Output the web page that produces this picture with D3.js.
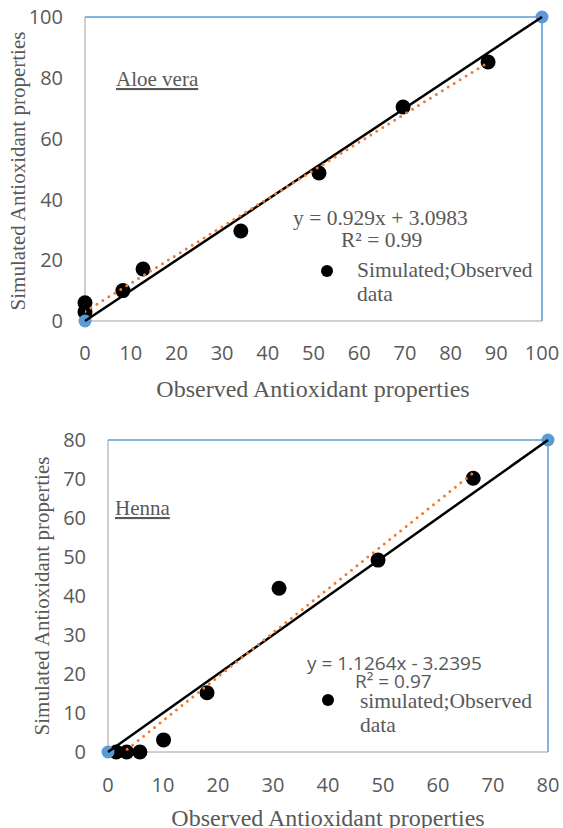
<!DOCTYPE html>
<html>
<head>
<meta charset="utf-8">
<style>
  body { margin: 0; background: #fff; }
  svg { display: block; }
</style>
</head>
<body>
<svg width="563" height="828"></svg>
<script src="https://cdn.jsdelivr.net/npm/d3@7"></script>
<script>
// Aloe vera panel
var aloeObserved  = [0, 0, 8.3, 12.7, 34.1, 51.2, 69.6, 88.2];
var aloeSimulated = [6, 3, 10, 17.1, 29.6, 48.7, 70.4, 85.2];
var aloeTrend = [0.929, 3.0983];
var aloeXTicks = [0, 10, 20, 30, 40, 50, 60, 70, 80, 90, 100];
var aloeYTicks = [0, 20, 40, 60, 80, 100];

// Henna panel
var hennaObserved  = [1.5, 3.4, 5.8, 10.1, 18, 31.1, 49.1, 66.4];
var hennaSimulated = [0, 0, 0, 3.1, 15.2, 42, 49.2, 70.2];
var hennaTrend = [1.1264, -3.2395];
var hennaXTicks = [0, 10, 20, 30, 40, 50, 60, 70, 80];
var hennaYTicks = [0, 10, 20, 30, 40, 50, 60, 70, 80];

var grey = "#595959",
    blue = "#5b9bd5",
    orange = "#ed7d31",
    serif = "'Liberation Serif', 'Times New Roman', serif",
    sans = "'Open Sans', 'Liberation Sans', sans-serif";

var svg = d3.select("svg");

function panel(opt) {
  var x = d3.scaleLinear().domain([0, opt.max]).range([opt.left, opt.right]);
  var y = d3.scaleLinear().domain([0, opt.max]).range([opt.bottom, opt.top]);
  var g = svg.append("g");

  // plot frame: grey axes, blue top/right
  g.append("line").attr("x1", x(0)).attr("x2", x(0)).attr("y1", y(0)).attr("y2", y(opt.max))
      .attr("stroke", "#bfbfbf").attr("stroke-width", 1.5);
  g.append("line").attr("x1", x(0)).attr("x2", x(opt.max)).attr("y1", y(0)).attr("y2", y(0))
      .attr("stroke", "#bfbfbf").attr("stroke-width", 1.5);
  g.append("path")
      .attr("d", d3.line()([[x(0), y(opt.max)], [x(opt.max), y(opt.max)], [x(opt.max), y(0)]]))
      .attr("fill", "none").attr("stroke", blue).attr("stroke-width", 1.5);

  g.selectAll(".xt").data(opt.xTicks).enter().append("text")
      .attr("x", function(d) { return x(d); })
      .attr("y", opt.bottom + opt.xTickGap)
      .attr("text-anchor", "middle")
      .attr("font-family", sans).attr("font-size", 20).attr("fill", grey)
      .text(function(d) { return d; });

  g.selectAll(".yt").data(opt.yTicks).enter().append("text")
      .attr("x", opt.left - 22)
      .attr("y", function(d) { return y(d); })
      .attr("dy", "0.36em")
      .attr("text-anchor", "end")
      .attr("font-family", sans).attr("font-size", 20).attr("fill", grey)
      .text(function(d) { return d; });

  g.append("text")
      .attr("x", opt.xTitle[0]).attr("y", opt.xTitle[1])
      .attr("text-anchor", "middle")
      .attr("font-family", serif).attr("font-size", 24).attr("fill", grey)
      .text("Observed Antioxidant properties");

  g.append("text")
      .attr("transform", "translate(" + opt.yTitle[0] + "," + opt.yTitle[1] + ") rotate(-90)")
      .attr("text-anchor", "middle")
      .attr("font-family", serif).attr("font-size", 21).attr("fill", grey)
      .text("Simulated Antioxidant properties");

  g.append("text")
      .attr("x", opt.name[1]).attr("y", opt.name[2])
      .attr("font-family", serif).attr("font-size", 21).attr("fill", grey)
      .attr("text-decoration", "underline")
      .text(opt.name[0]);

  var pts = opt.obs.map(function(d, i) { return [d, opt.sim[i]]; });

  g.selectAll(".pt").data(pts).enter().append("circle")
      .attr("cx", function(d) { return x(d[0]); })
      .attr("cy", function(d) { return y(d[1]); })
      .attr("r", 7.5)
      .attr("fill", "#000");

  g.selectAll(".ref").data([[0, 0], [opt.max, opt.max]]).enter().append("circle")
      .attr("cx", function(d) { return x(d[0]); })
      .attr("cy", function(d) { return y(d[1]); })
      .attr("r", 6.5)
      .attr("fill", blue);

  // 1:1 line
  g.append("line")
      .attr("x1", x(0)).attr("y1", y(0)).attr("x2", x(opt.max)).attr("y2", y(opt.max))
      .attr("stroke", "#000").attr("stroke-width", 2.5);

  // linear trendline, clipped to plot area
  var clipId = "clip-" + opt.name[0].replace(/\s/g, "");
  g.append("clipPath").attr("id", clipId).append("rect")
      .attr("x", opt.left).attr("y", opt.top)
      .attr("width", opt.right - opt.left).attr("height", opt.bottom - opt.top);
  var x0 = d3.min(opt.obs), x1 = d3.max(opt.obs);
  g.append("path")
      .attr("clip-path", "url(#" + clipId + ")")
      .attr("d", d3.line()([[x(x0), y(opt.trend[0] * x0 + opt.trend[1])],
                            [x(x1), y(opt.trend[0] * x1 + opt.trend[1])]]))
      .attr("fill", "none").attr("stroke", orange).attr("stroke-width", 3)
      .attr("stroke-linecap", "round").attr("stroke-dasharray", "0,7");

  // equation, R², legend
  var L = opt.legend;
  g.append("text").attr("x", L.eq[0]).attr("y", L.eq[1])
      .attr("font-family", L.eqFont).attr("font-size", L.eqSize).attr("fill", grey)
      .text(L.eqText);
  g.append("text").attr("x", L.r2[0]).attr("y", L.r2[1])
      .attr("font-family", L.eqFont).attr("font-size", L.eqSize).attr("fill", grey)
      .text(L.r2Text);
  g.append("circle").attr("cx", L.dot[0]).attr("cy", L.dot[1]).attr("r", 6).attr("fill", "#000");
  var t = g.append("text").attr("x", L.lab[0]).attr("y", L.lab[1])
      .attr("font-family", serif).attr("font-size", 21.5).attr("fill", grey);
  t.append("tspan").attr("x", L.lab[0]).text(L.labText[0]);
  t.append("tspan").attr("x", L.lab[0]).attr("dy", 23.5).text(L.labText[1]);
}

panel({
  max: 100, left: 85, right: 542, top: 17, bottom: 321,
  xTicks: aloeXTicks, yTicks: aloeYTicks, xTickGap: 39,
  obs: aloeObserved, sim: aloeSimulated, trend: aloeTrend,
  xTitle: [313, 397], yTitle: [25, 171],
  name: ["Aloe vera", 116, 86],
  legend: {
    eq: [293, 225], eqText: "y = 0.929x + 3.0983",
    r2: [341, 247], r2Text: "R² = 0.99",
    eqFont: serif, eqSize: 21.5,
    dot: [327, 271],
    lab: [357, 277], labText: ["Simulated;Observed", "data"]
  }
});

panel({
  max: 80, left: 108, right: 548, top: 440, bottom: 752,
  xTicks: hennaXTicks, yTicks: hennaYTicks, xTickGap: 40,
  obs: hennaObserved, sim: hennaSimulated, trend: hennaTrend,
  xTitle: [328, 826], yTitle: [49, 596],
  name: ["Henna", 115, 515],
  legend: {
    eq: [307, 670], eqText: "y = 1.1264x - 3.2395",
    r2: [355, 688], r2Text: "R² = 0.97",
    eqFont: sans, eqSize: 19,
    dot: [328, 700],
    lab: [360, 708], labText: ["simulated;Observed", "data"]
  }
});
</script>
</body>
</html>
